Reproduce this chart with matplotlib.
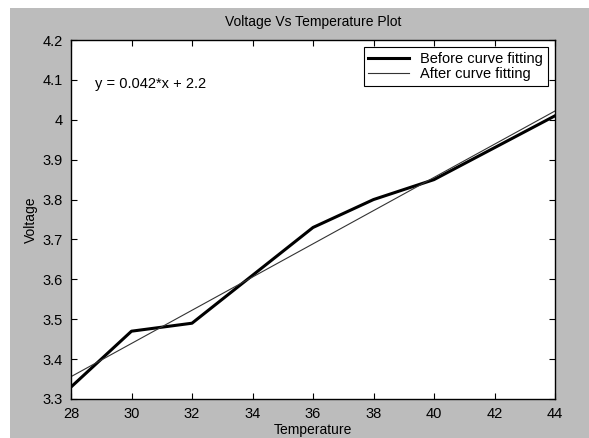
import matplotlib
matplotlib.use("Agg")
import matplotlib.pyplot as plt
from matplotlib.patches import Rectangle

# data
temperature = [28, 30, 32, 34, 36, 38, 40, 42, 44]
voltage = [3.33, 3.47, 3.49, 3.61, 3.73, 3.80, 3.85, 3.93, 4.01]
fit_x = [28, 44]
fit_y = [3.356, 4.022]
xticks = [28, 30, 32, 34, 36, 38, 40, 42, 44]
yticks = [3.3, 3.4, 3.5, 3.6, 3.7, 3.8, 3.9, 4.0, 4.1, 4.2]

plt.rcParams['font.family'] = ['Liberation Sans', 'DejaVu Sans']

fig = plt.figure(figsize=(5.89, 4.38), dpi=100, facecolor='white')
# grey matlab-like figure background (white strip at top/left like the scan)
fig.patches.append(Rectangle((10 / 589, 0), 1 - 10 / 589, 430 / 438,
                             transform=fig.transFigure, facecolor='#bcbcbc',
                             edgecolor='none', zorder=-10))

ax = fig.add_axes([71 / 589, 39 / 438, 484 / 589, 359 / 438])
ax.set_facecolor('white')

ax.plot(temperature, voltage, color='black', lw=2.2, label='Before curve fitting')
ax.plot(fit_x, fit_y, color='#333333', lw=0.8, label='After curve fitting')

ax.set_xlim(28, 44)
ax.set_ylim(3.3, 4.2)
ax.set_xticks(xticks)
ax.set_yticks(yticks)
ax.set_yticklabels(['3.3', '3.4', '3.5', '3.6', '3.7', '3.8', '3.9', '4', '4.1', '4.2'])
ax.tick_params(direction='in', top=True, right=True, length=4, width=0.8,
               labelsize=10.5, colors='black', pad=6)
for s in ax.spines.values():
    s.set_linewidth(1.0)

ax.set_title('Voltage Vs Temperature Plot', fontsize=10, pad=10)
ax.set_xlabel('Temperature', fontsize=10, labelpad=1)
ax.set_ylabel('Voltage', fontsize=10, labelpad=3)

ax.text(28.8, 4.09, 'y = 0.042*x + 2.2', fontsize=10.5, va='center', ha='left')

leg = ax.legend(loc='upper right', fontsize=10.5, fancybox=False, framealpha=1,
                edgecolor='black', borderpad=0.3, labelspacing=0.1,
                handlelength=2.8, borderaxespad=0.5)
leg.get_frame().set_linewidth(0.8)

fig.savefig('out.png', dpi=100, facecolor=fig.get_facecolor())
